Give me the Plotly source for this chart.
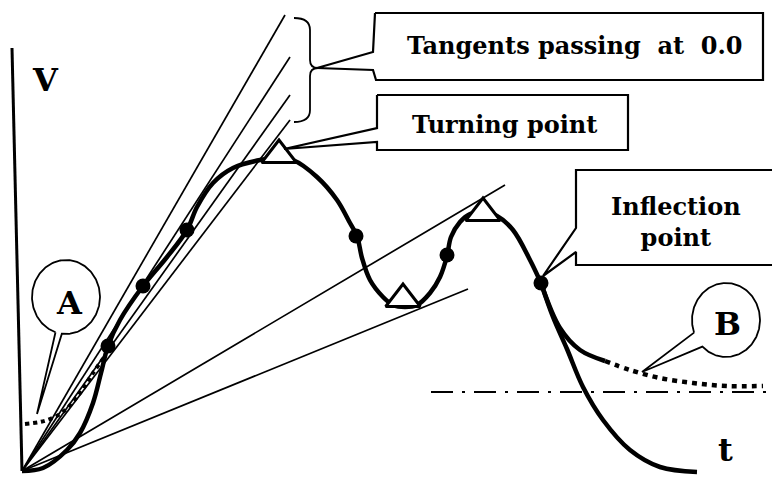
import numpy as np
import plotly.graph_objects as go

# ---------------- data (picture coordinates, y grows downward) ----------------
origin_x, origin_y = 22, 471

# main response curve V(t)
curve_x = [22, 43, 67, 80, 93, 101, 108, 120, 143, 167, 187, 197, 213, 233, 260, 278,
           293, 317, 337, 350, 357, 362, 370, 383, 393, 405, 417, 430, 440, 447,
           451, 460, 470, 483, 497, 513, 530, 541]
curve_y = [471, 468, 450, 433, 403, 373, 346, 320, 286, 257, 230, 207, 183, 168, 160, 158,
           160, 177, 200, 223, 236, 258, 280, 297, 305, 307, 305, 293, 277, 256,
           237, 222, 214, 212, 216, 230, 260, 283]

# steep branch after inflection
steep_x = [541, 553, 567, 583, 603, 630, 660, 697]
steep_y = [283, 317, 349, 387, 420, 450, 467, 472]

# flattening branch B (solid part, then dotted part)
flat_x = [541, 560, 580, 605]
flat_y = [283, 328, 350, 361]
flatdot_x = [605, 630, 660, 693, 727, 763]
flatdot_y = [361, 370, 378, 383, 386, 386]

# dotted start A
startdot_x = [25, 40, 50, 63, 80, 93, 105]
startdot_y = [424, 422, 419, 412, 393, 373, 356]

# inflection / tangent points (filled dots)
dots_x = [108, 143, 187, 356, 447, 541]
dots_y = [346, 286, 230, 236, 255, 283]

# turning points (open triangles)
turn_x = [279, 403, 483]
turn_y = [155, 299, 213]

# tangents through the origin (end points)
tangent_end_x = [285, 290, 290, 290, 505, 468]
tangent_end_y = [15, 57, 95, 120, 185, 289]

# asymptote (dash-dot)
asym_x = [431, 766]
asym_y = [392, 392]

# vertical axis
vaxis_x = [12, 22]
vaxis_y = [48, 471]

# labels
label_text = ["V", "t", "A", "B"]
label_x = [45, 725, 69, 727]
label_y = [80, 450, 303, 324]

# callout boxes (outline paths with pointer notches)
tangent_box_x = [375, 763, 763, 376, 373, 317, 373, 375]
tangent_box_y = [13, 13, 80, 80, 70, 68, 52, 13]
turning_box_x = [377, 628, 628, 377, 377, 284, 377, 377]
turning_box_y = [95, 95, 150, 150, 142, 149, 128, 95]
inflect_box_x = [780, 576, 576, 543, 576, 576, 780]
inflect_box_y = [170, 170, 228, 276, 252, 265, 265]
box_text = ["Tangents passing\u00a0\u00a0at\u00a0\u00a00.0", "Turning point", "Inflection<br>point"]
box_text_x = [575, 504, 676]
box_text_y = [45, 124, 222]

# circle callouts: centre, radii, tail tip
circ_cx = [66, 726]
circ_cy = [297, 320]
circ_rx = [34, 34]
circ_ry = [37, 37]
circ_tail_ang = [(108, 97), (160, 134)]  # angles (deg, from +x, y down) where tail leaves
circ_tip_x = [37, 642]
circ_tip_y = [414, 372]

FONT = "DejaVu Serif"

fig = go.Figure()

def line(x, y, w=1.6, dash=None, shape="linear", color="black"):
    fig.add_trace(go.Scatter(x=x, y=y, mode="lines", hoverinfo="skip",
                             line=dict(color=color, width=w, dash=dash, shape=shape,
                                       smoothing=1.0 if shape == "spline" else None)))

# vertical axis
line(vaxis_x, vaxis_y, w=3)

# tangents
for ex, ey in zip(tangent_end_x, tangent_end_y):
    line([origin_x, ex], [origin_y, ey], w=1.7)

# asymptote
line(asym_x, asym_y, w=2, dash="22px,9px,3px,9px")

# curves
line(startdot_x, startdot_y, w=4, dash="4px,4px", shape="spline")
line(curve_x, curve_y, w=4.5, shape="spline")
line(steep_x, steep_y, w=4.5, shape="spline")
line(flat_x, flat_y, w=4.5, shape="spline")
line(flatdot_x, flatdot_y, w=4.5, dash="5px,5px", shape="spline")

# markers
fig.add_trace(go.Scatter(x=dots_x, y=dots_y, mode="markers", hoverinfo="skip",
                         marker=dict(symbol="circle", size=15, color="black")))
fig.add_trace(go.Scatter(x=turn_x, y=turn_y, mode="markers", hoverinfo="skip",
                         marker=dict(symbol="triangle-up", size=30, color="white",
                                     line=dict(color="black", width=3))))

# callout boxes
for bx, by in [(tangent_box_x, tangent_box_y), (turning_box_x, turning_box_y),
               (inflect_box_x, inflect_box_y)]:
    fig.add_trace(go.Scatter(x=bx, y=by, mode="lines", fill="toself", fillcolor="white",
                             hoverinfo="skip", line=dict(color="black", width=2.2)))

# brace for tangents
brace = ("M 294,18 Q 310,18 310,30 L 310,60 Q 310,68 318,68 "
         "Q 310,68 310,76 L 310,110 Q 310,122 294,122")
fig.add_shape(type="path", path=brace, line=dict(color="black", width=1.8))

# circle callouts
for cx, cy, rx, ry, (a1, a2), tx, ty in zip(circ_cx, circ_cy, circ_rx, circ_ry,
                                             circ_tail_ang, circ_tip_x, circ_tip_y):
    t = np.radians(np.linspace(a1, a2 + 360, 200))
    px = list(cx + rx * np.cos(t)) + [tx, cx + rx * np.cos(np.radians(a1))]
    py = list(cy + ry * np.sin(t)) + [ty, cy + ry * np.sin(np.radians(a1))]
    fig.add_trace(go.Scatter(x=px, y=py, mode="lines", fill="toself", fillcolor="white",
                             hoverinfo="skip", line=dict(color="black", width=1.8)))

# texts
for s, x, y in zip(box_text, box_text_x, box_text_y):
    fig.add_annotation(x=x, y=y, text="<b>" + s + "</b>", showarrow=False,
                       font=dict(family=FONT, size=24, color="black"))
for s, x, y in zip(label_text, label_x, label_y):
    fig.add_annotation(x=x, y=y, text="<b>" + s + "</b>", showarrow=False,
                       font=dict(family=FONT, size=32, color="black"))

fig.update_layout(width=772, height=478, margin=dict(l=0, r=0, t=0, b=0),
                  plot_bgcolor="white", paper_bgcolor="white", showlegend=False,
                  xaxis=dict(range=[0, 772], visible=False, fixedrange=True),
                  yaxis=dict(range=[478, 0], visible=False, fixedrange=True))

fig.write_html("out.html", config={"displayModeBar": False},
               post_script="document.body.style.margin='0';document.body.style.overflow='hidden';")
